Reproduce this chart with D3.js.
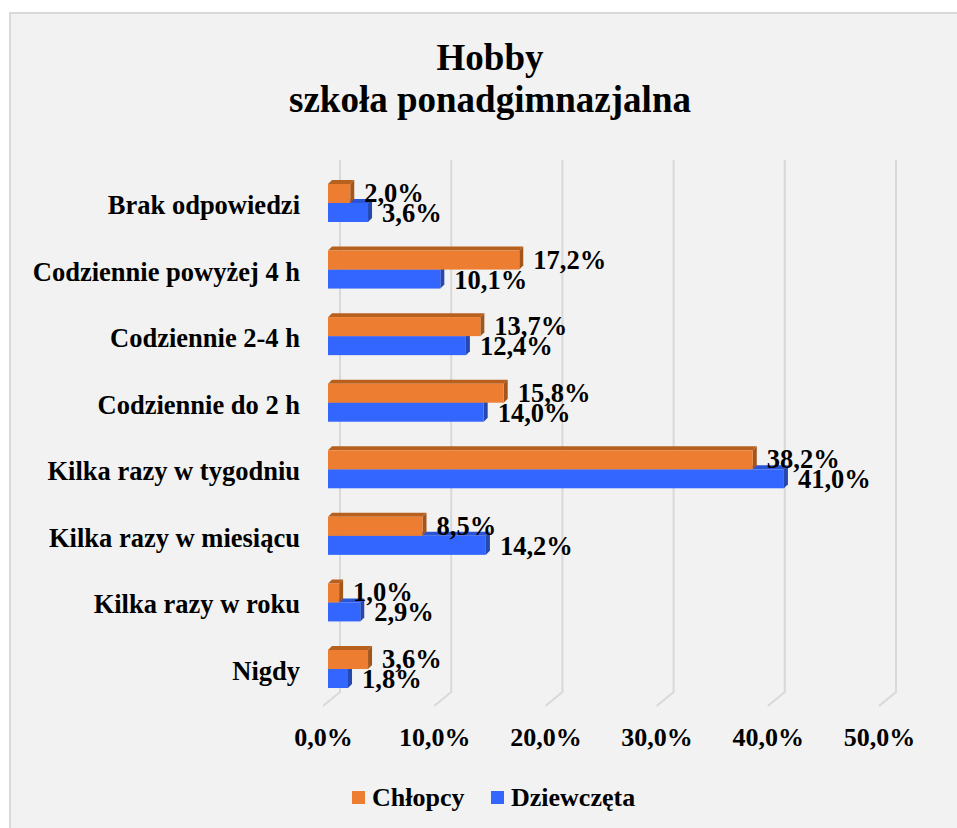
<!DOCTYPE html>
<html>
<head>
<meta charset="utf-8">
<script src="https://cdn.jsdelivr.net/npm/d3@7"></script>
<style>
  body { margin: 0; background: #fff; }
  text { font-family: "Liberation Serif", "Times New Roman", serif; font-weight: bold; }
</style>
</head>
<body>
<div id="chart"></div>
<script>
// data, top row first
var categories = ["Brak odpowiedzi", "Codziennie powyżej 4 h", "Codziennie 2-4 h", "Codziennie do 2 h",
  "Kilka razy w tygodniu", "Kilka razy w miesiącu", "Kilka razy w roku", "Nigdy"];
var chlopcy = [2.0, 17.2, 13.7, 15.8, 38.2, 8.5, 1.0, 3.6];
var dziewczeta = [3.6, 10.1, 12.4, 14.0, 41.0, 14.2, 2.9, 1.8];
var seriesNames = ["Chłopcy", "Dziewczęta"];
var tickValues = [0, 10, 20, 30, 40, 50];
var titleLines = ["Hobby", "szkoła ponadgimnazjalna"];

var width = 957, height = 828;
var barX0 = 328, backX0 = 340, frontX0 = 323;
var depth = 4;
var barH = 19;

var svg = d3.select("#chart").append("svg")
  .attr("width", width)
  .attr("height", height);

// chart area
svg.append("rect")
  .attr("x", 10).attr("y", 13)
  .attr("width", 960).attr("height", 830)
  .attr("fill", "#f2f2f2")
  .attr("stroke", "#d9d9d9")
  .attr("stroke-width", 2);

// title
svg.selectAll(".title").data(titleLines).enter().append("text")
  .attr("class", "title")
  .attr("x", 490)
  .attr("y", function (d, i) { return 70 + i * 42; })
  .attr("text-anchor", "middle")
  .style("font-size", "37px")
  .text(function (d) { return d; });

var x = d3.scaleLinear().domain([0, 50]).range([0, 556]);
var y = d3.scaleBand().domain(categories).range([169.7, 702.3]);

// back wall gridlines + floor
var grid = svg.append("g");
tickValues.forEach(function (t) {
  grid.append("path")
    .attr("d", "M" + (backX0 + x(t)) + ",160 L" + (backX0 + x(t)) + ",692 L" + (frontX0 + x(t)) + ",706")
    .attr("fill", "none")
    .attr("stroke", "#d9d9d9")
    .attr("stroke-width", 2);
});

// 3d bar helper
function bar3d(g, x1, y0, col, top, side) {
  var x0 = barX0, y1 = y0 + barH;
  g.append("path")
    .attr("d", "M" + x0 + "," + y0 + " L" + (x0 + depth) + "," + (y0 - depth) + " L" + (x1 + depth) + "," + (y0 - depth) + " L" + x1 + "," + y0 + "Z")
    .attr("fill", top);
  g.append("path")
    .attr("d", "M" + x1 + "," + y0 + " L" + (x1 + depth) + "," + (y0 - depth) + " L" + (x1 + depth) + "," + (y1 - depth) + " L" + x1 + "," + y1 + "Z")
    .attr("fill", side);
  g.append("rect")
    .attr("x", x0).attr("y", y0)
    .attr("width", x1 - x0).attr("height", barH)
    .attr("fill", col);
}

var bars = svg.append("g");
categories.forEach(function (c, i) {
  var mid = y(c) + y.bandwidth() / 2;
  var g = bars.append("g");
  // blue first so the orange front face hides its top
  bar3d(g, barX0 + x(dziewczeta[i]), mid, "#3366ff", "#2a54d6", "#2447b0");
  bar3d(g, barX0 + x(chlopcy[i]), mid - barH, "#ed7d31", "#b8611f", "#a3561c");
});

// data labels
var fmt = function (v) { return d3.format(".1f")(v).replace(".", ",") + "%"; };
var labels = svg.append("g").style("font-size", "26.5px");
categories.forEach(function (c, i) {
  var mid = y(c) + y.bandwidth() / 2;
  labels.append("text")
    .attr("x", barX0 + x(chlopcy[i]) + 14)
    .attr("y", mid - 1)
    .text(fmt(chlopcy[i]));
  labels.append("text")
    .attr("x", barX0 + x(dziewczeta[i]) + 14)
    .attr("y", mid + barH)
    .text(fmt(dziewczeta[i]));
});

// category axis
var yAxis = d3.axisLeft(y).tickSize(0).tickPadding(0);
var ya = svg.append("g")
  .attr("transform", "translate(300,0)")
  .call(yAxis);
ya.select(".domain").remove();
ya.selectAll("text")
  .attr("dy", null)
  .attr("y", 11)
  .style("font-size", "26.5px")
  .style("font-family", "'Liberation Serif', serif")
  .attr("fill", "#000");

// value axis
var xs = d3.scaleLinear().domain([0, 50]).range([frontX0, frontX0 + 556]);
var xAxis = d3.axisBottom(xs).tickValues(tickValues).tickSize(0)
  .tickFormat(function (d) { return d3.format(".1f")(d).replace(".", ",") + "%"; });
var xa = svg.append("g")
  .attr("transform", "translate(0,746)")
  .call(xAxis);
xa.select(".domain").remove();
xa.selectAll("text")
  .attr("dy", null)
  .attr("y", 0)
  .style("font-size", "26px")
  .style("font-family", "'Liberation Serif', serif")
  .attr("fill", "#000");

// legend
var legend = svg.append("g");
var legendX = [352, 491];
var legendCol = ["#ed7d31", "#3366ff"];
seriesNames.forEach(function (s, i) {
  legend.append("rect")
    .attr("x", legendX[i]).attr("y", 791)
    .attr("width", 13).attr("height", 13)
    .attr("fill", legendCol[i]);
  legend.append("text")
    .attr("x", legendX[i] + 20).attr("y", 806)
    .style("font-size", "26px")
    .text(s);
});
</script>
</body>
</html>
